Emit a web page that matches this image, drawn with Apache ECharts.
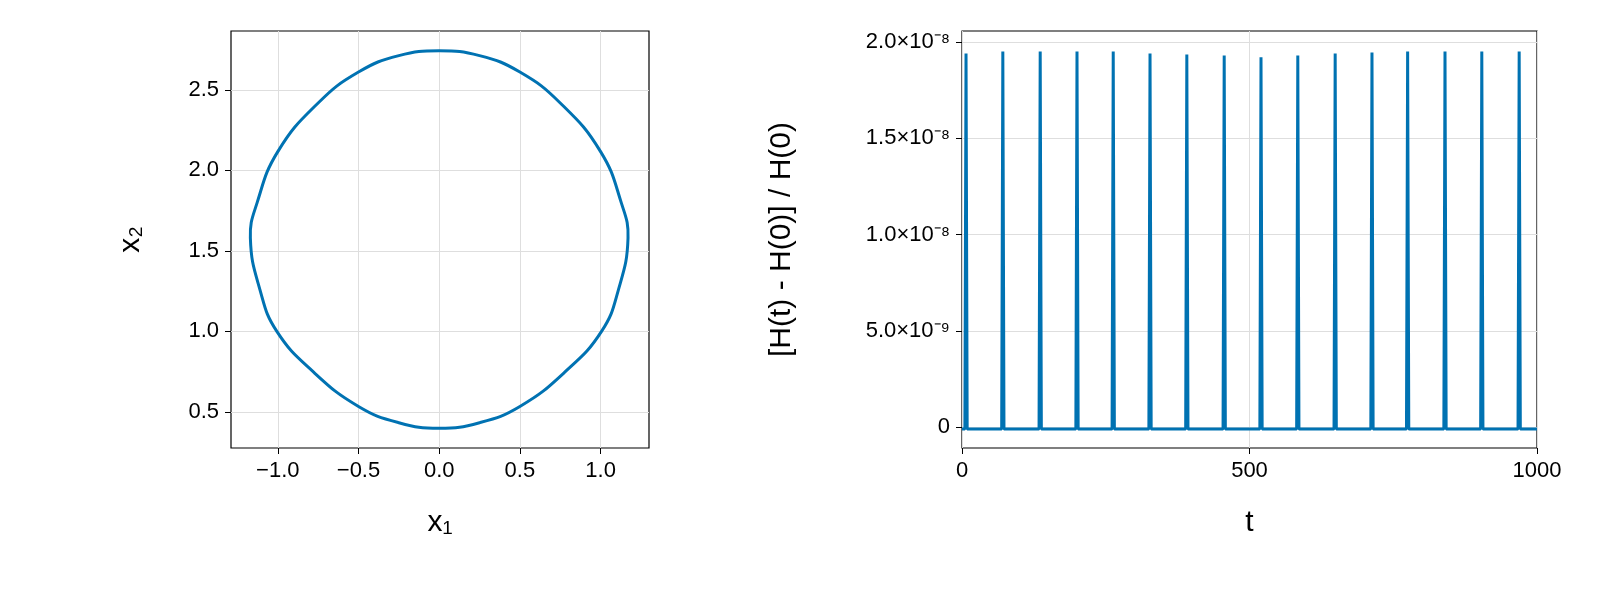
<!DOCTYPE html>
<html><head><meta charset="utf-8">
<script src="https://cdn.jsdelivr.net/npm/echarts@6/dist/echarts.min.js"></script>
<style>html,body{margin:0;background:#fff}#c{width:1600px;height:600px}</style>
</head><body><div id="c"></div>
<script>
// phase portrait
var loopX = [0,0.25,0.5,0.75,1.0,1.128,1.17,1.110,1.006,0.778,0.5,0.25,0,-0.25,-0.5,-0.778,-1.006,-1.110,-1.17,-1.128,-1.0,-0.75,-0.5,-0.25];
var loopY = [2.743,2.713,2.611,2.419,2.117,1.8,1.58,1.257,1.0,0.747,0.534,0.433,0.398,0.433,0.534,0.747,1.0,1.257,1.58,1.8,2.117,2.419,2.611,2.713];
// energy error spikes
var spikeT = [7,71,136,200,263,327,391,456,520,584,649,713,775,840,904,969];
var spikeH = [1.94,1.95,1.95,1.95,1.95,1.94,1.935,1.93,1.92,1.93,1.94,1.945,1.95,1.95,1.95,1.95];
var baseErr = -0.1e-9;
var xTicksL = [-1.0,-0.5,0.0,0.5,1.0];
var yTicksL = [0.5,1.0,1.5,2.0,2.5];
var yTicksR = [0,5e-9,1e-8,1.5e-8,2e-8];

var loop = loopX.map(function(x,i){return [x,loopY[i]];});
var err = [[0,baseErr]];
for(var i=0;i<spikeT.length;i++){
  err.push([spikeT[i]-2,baseErr],[spikeT[i],spikeH[i]*1e-8],[spikeT[i]+2,baseErr]);
}
err.push([1000,baseErr]);

var sup = {'-':'⁻','0':'⁰','1':'¹','2':'²','3':'³','4':'⁴','5':'⁵','6':'⁶','7':'⁷','8':'⁸','9':'⁹'};
function sci(v){
  if(v==0) return '0';
  var e = Math.floor(Math.log10(Math.abs(v))+1e-9);
  var m = (v/Math.pow(10,e)).toFixed(1);
  return m+'×10'+String(e).split('').map(function(c){return sup[c];}).join('');
}
var F = '"Liberation Sans", Arial, sans-serif';
var lab = {color:'#000',fontSize:22,fontFamily:F};
var gl = {show:true,lineStyle:{color:'#dedede',width:1}};
var tk = {show:true,inside:false,length:6,lineStyle:{color:'#000'}};
var chart = echarts.init(document.getElementById('c'));
chart.setOption({
  animation:false,
  grid:[
    {left:231,right:951,top:31,bottom:152,show:true,borderColor:'#000',borderWidth:1.2},
    {left:962,right:63,top:31,bottom:152,show:true,borderColor:'#000',borderWidth:1.2}
  ],
  xAxis:[
    {gridIndex:0,type:'value',min:-1.29,max:1.30,axisLine:{show:false,onZero:false},
     axisTick:Object.assign({customValues:xTicksL},tk),
     axisLabel:Object.assign({customValues:xTicksL,margin:12,formatter:function(v){return (v<0?'−':'')+Math.abs(v).toFixed(1);}},lab),
     splitLine:gl,name:'x₁',nameLocation:'middle',nameGap:60,nameTextStyle:{color:'#000',fontSize:30,fontFamily:F}},
    {gridIndex:1,type:'value',min:0,max:1000,interval:500,axisLine:{show:false,onZero:false},
     axisTick:tk,axisLabel:Object.assign({margin:12,showMaxLabel:true,formatter:function(v){return String(v);}},lab),
     splitLine:gl,name:'t',nameLocation:'middle',nameGap:60,nameTextStyle:{color:'#000',fontSize:30,fontFamily:F}}
  ],
  yAxis:[
    {gridIndex:0,type:'value',min:0.276,max:2.866,axisLine:{show:false,onZero:false},
     axisTick:Object.assign({customValues:yTicksL},tk),
     axisLabel:Object.assign({customValues:yTicksL,margin:12,formatter:function(v){return v.toFixed(1);}},lab),
     splitLine:gl,name:'x₂',nameLocation:'middle',nameGap:85,nameTextStyle:{color:'#000',fontSize:30,fontFamily:F}},
    {gridIndex:1,type:'value',min:-1.09e-9,max:2.057e-8,axisLine:{show:false,onZero:false},
     axisTick:Object.assign({customValues:yTicksR},tk),
     axisLabel:Object.assign({customValues:yTicksR,margin:12,formatter:sci},lab),
     splitLine:gl,name:'[H(t) - H(0)] / H(0)',nameLocation:'middle',nameGap:165,nameTextStyle:{color:'#000',fontSize:30,fontFamily:F}}
  ],
  series:[
    {type:'custom',xAxisIndex:0,yAxisIndex:0,data:[loop[0]],encode:{x:0,y:1},
     renderItem:function(params,api){
       var pts = loop.map(function(p){return api.coord(p);});
       return {type:'polygon',shape:{points:pts,smooth:0.45,smoothConstraint:false},
               style:{fill:'none',stroke:'#0072b2',lineWidth:3}};
     }},
    {type:'line',xAxisIndex:1,yAxisIndex:1,data:err,showSymbol:false,lineStyle:{color:'#0072b2',width:3}}
  ]
});
</script></body></html>
